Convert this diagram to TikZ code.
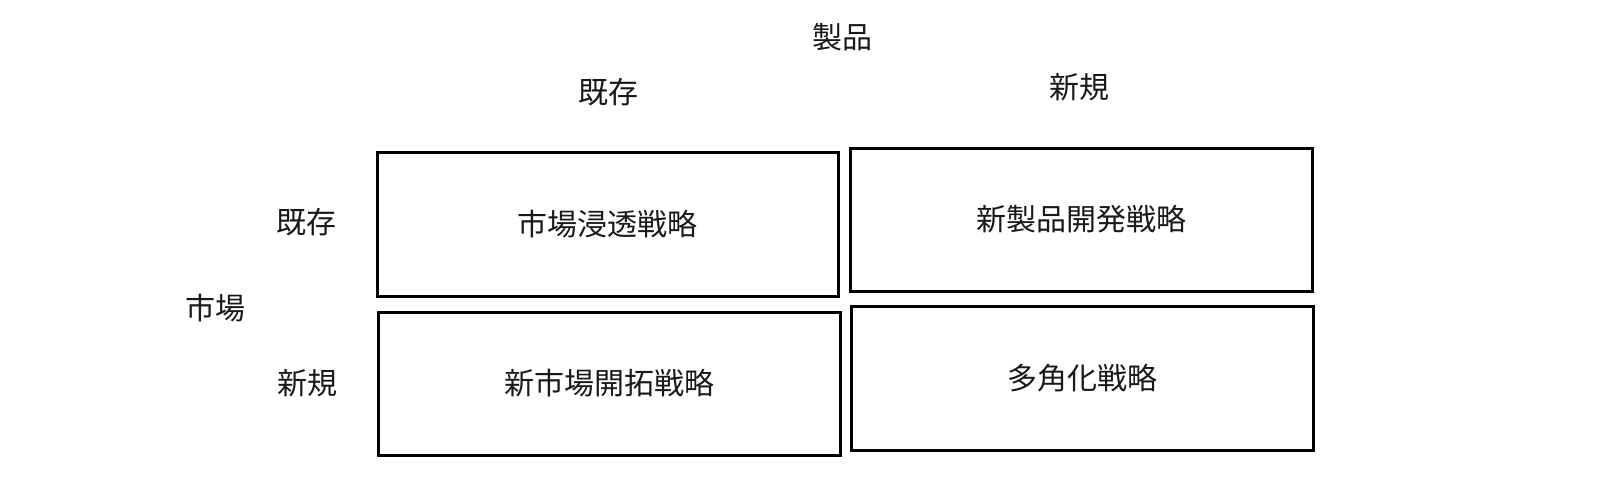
\documentclass[tikz,border=0pt]{standalone}
\usepackage{fontspec}
\newfontfamily\jp{Noto Sans CJK JP}
\begin{document}
\begin{tikzpicture}[x=0.5pt,y=-0.5pt,
  cell/.style={draw=black,line width=1.5pt,inner sep=0pt,outer sep=0pt,font=\jp\fontsize{15pt}{18pt}\selectfont,text=black!90},
  lbl/.style={inner sep=0pt,font=\jp\fontsize{15pt}{18pt}\selectfont,text=black!90}]
\useasboundingbox[fill=white] (0,0) rectangle (1600,500);
\node[cell,minimum width=230.5pt,minimum height=72pt] (tl) at (607.5,224) {市場浸透戦略};
\node[cell,minimum width=231pt,minimum height=71.5pt] (bl) at (609,383.5) {新市場開拓戦略};
\node[cell,minimum width=231pt,minimum height=71.5pt] (tr) at (1081,219.5) {新製品開発戦略};
\node[cell,minimum width=231pt,minimum height=72pt] (br) at (1082,378) {多角化戦略};
\node[lbl] (prod) at (842,37) {製品};
\node[lbl] (pold) at (608,92) {既存};
\node[lbl] (pnew) at (1079,87) {新規};
\node[lbl] (mold) at (306,222) {既存};
\node[lbl] (mkt) at (215,308) {市場};
\node[lbl] (mnew) at (307,383) {新規};
\end{tikzpicture}
\end{document}
